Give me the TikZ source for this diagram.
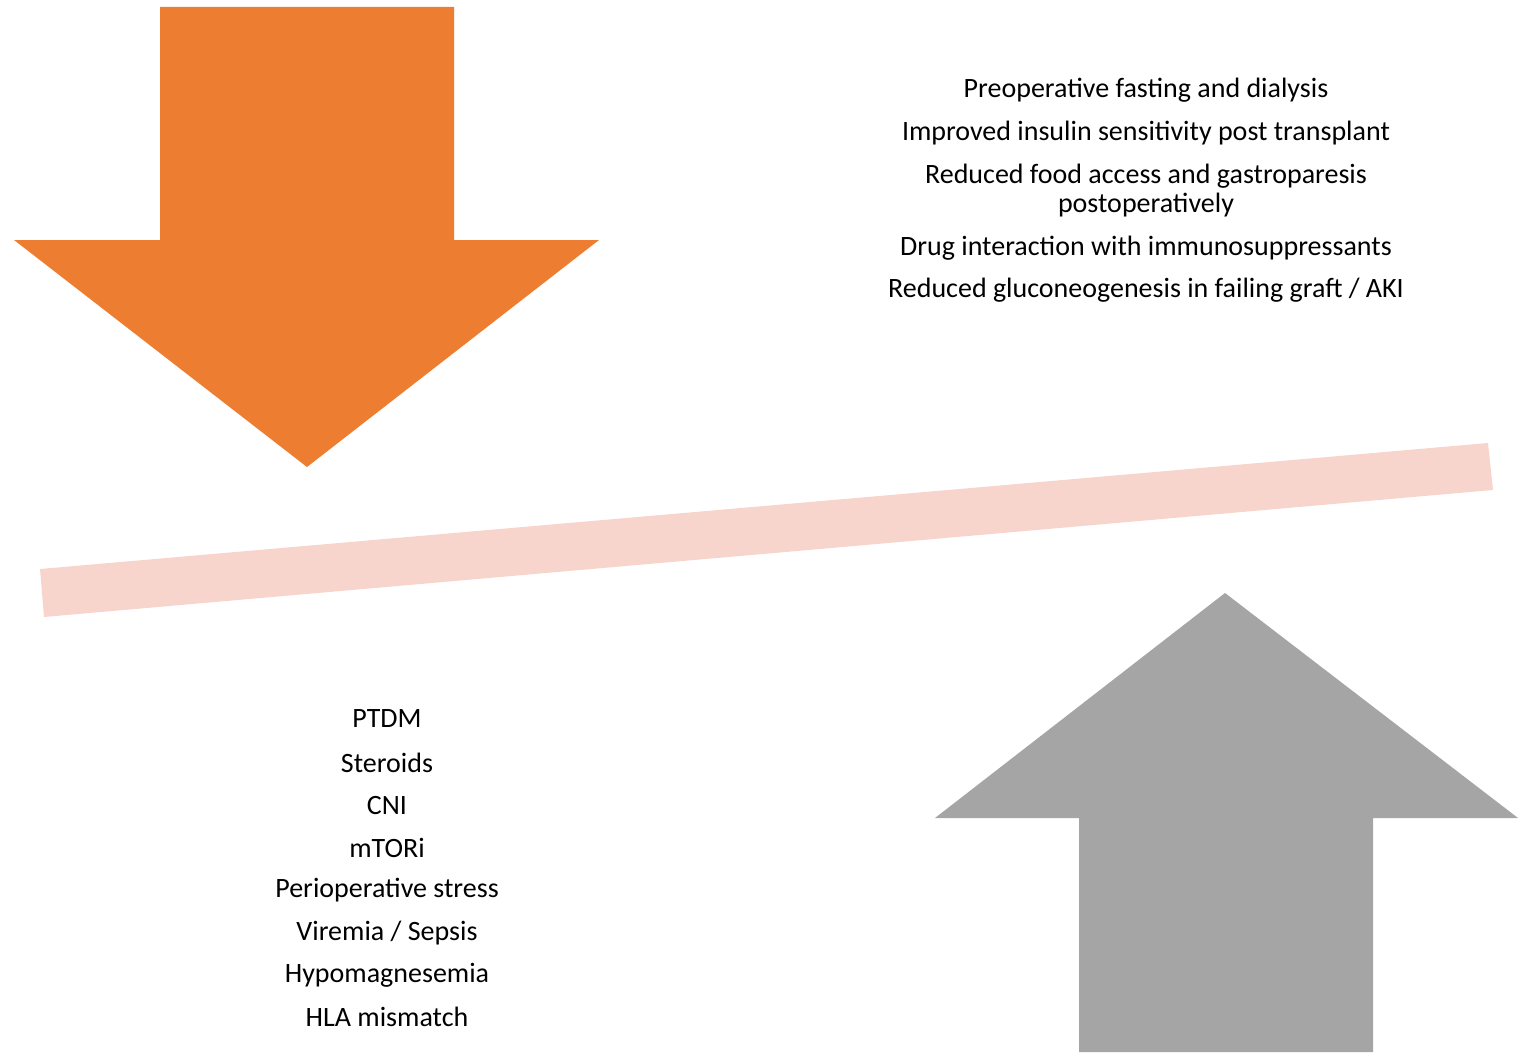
\documentclass[tikz,border=0pt]{standalone}
\usepackage{fontspec}
\setmainfont{Carlito}
\definecolor{uporange}{HTML}{ED7D31}
\definecolor{upgray}{HTML}{A5A5A5}
\definecolor{beampink}{HTML}{F8D5CC}

\begin{document}
\begin{tikzpicture}[x=1pt,y=-1pt,
  factor/.style={font=\fontsize{28}{29}\selectfont,inner sep=0pt,align=center,anchor=center}]
  \useasboundingbox (0,0) rectangle (1535,1062);
  % arrow pushing down
  \fill[uporange] (160,7) -- (454,7) -- (454,240) -- (599,240) -- (307,467)
    -- (14,240) -- (160,240) -- cycle;
  % arrow pushing up
  \fill[upgray] (1079,1052) -- (1373,1052) -- (1373,818) -- (1518,818) -- (1225,593)
    -- (935,818) -- (1079,818) -- cycle;
  % tilted beam
  \fill[beampink] (40,569) -- (1488,443) -- (1493,490) -- (44,617) -- cycle;

  \node[factor] (fast) at (1146,90) {Preoperative fasting and dialysis};
  \node[factor] (insul) at (1146,133) {Improved insulin sensitivity post transplant};
  \node[factor] (food) at (1146,191) {Reduced food access and gastroparesis\\postoperatively};
  \node[factor] (drug) at (1146,248) {Drug interaction with immunosuppressants};
  \node[factor] (gluc) at (1146,290) {Reduced gluconeogenesis in failing graft / AKI};

  \node[factor] (ptdm) at (387,719) {PTDM};
  \node[factor] (ster) at (387,763) {Steroids};
  \node[factor] (cni) at (387,806) {CNI};
  \node[factor] (mtor) at (387,848) {mTORi};
  \node[factor] (stress) at (387,890) {Perioperative stress};
  \node[factor] (sepsis) at (387,933) {Viremia / Sepsis};
  \node[factor] (mag) at (387,975) {Hypomagnesemia};
  \node[factor] (hla) at (387,1017) {HLA mismatch};
\end{tikzpicture}
\end{document}
